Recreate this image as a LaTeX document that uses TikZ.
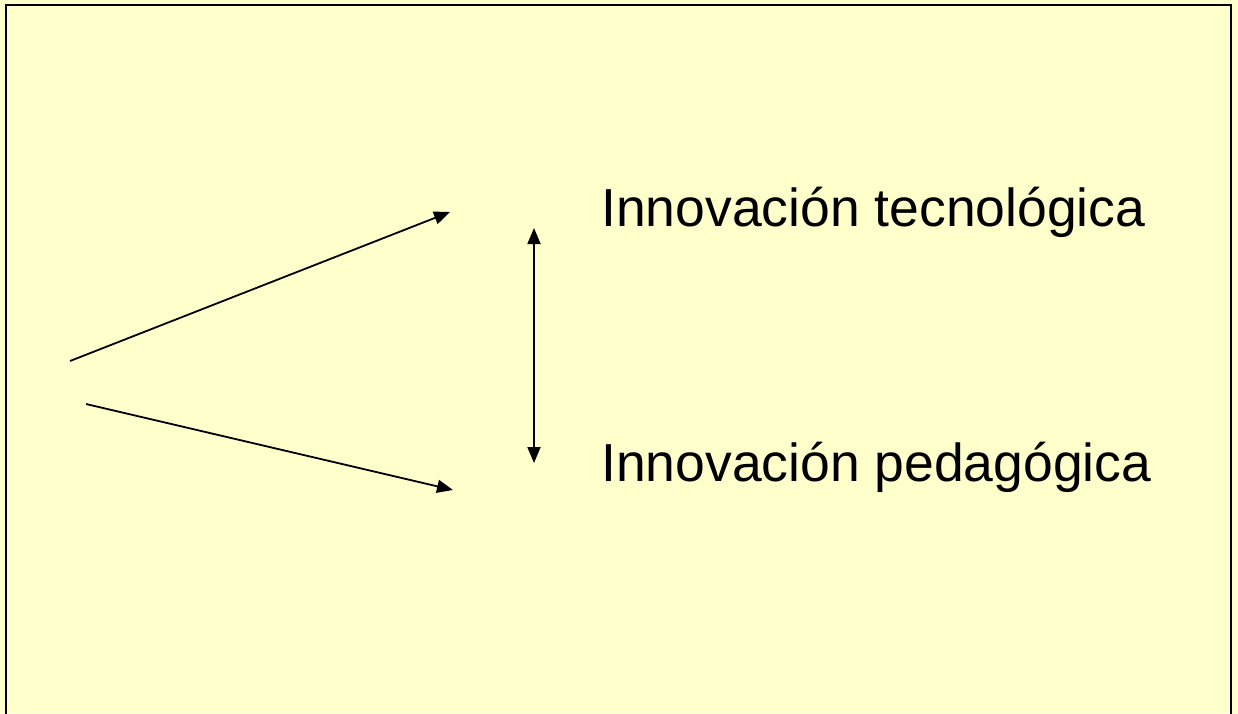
\documentclass[tikz,border=0pt]{standalone}
\usepackage{fontspec}
\setmainfont{Liberation Sans}
\usetikzlibrary{arrows.meta}

\definecolor{slidebg}{RGB}{255,255,204}

\begin{document}
\begin{tikzpicture}
		[x=1pt,y=-1pt,
		 every node/.style={inner sep=0pt,anchor=base west,font=\fontsize{53.5}{60}\selectfont},
		 flecha/.style={line width=1.8pt,-{Triangle[length=16pt,width=13pt]}},
		 doble/.style={line width=1.8pt,{Triangle[length=16pt,width=13pt]}-{Triangle[length=16pt,width=13pt]}}]
		\fill[slidebg] (0,0) rectangle (1238,713);
		\useasboundingbox (0,0) rectangle (1238,713);
		\draw[line width=2pt] (6,720) |- (1231,5) -- (1231,720);
		
		\node (tec) at (601,226) {Innovación tecnológica};
		\node (ped) at (601,481) {Innovación pedagógica};
		
		\coordinate (o1) at (70,361);
		\coordinate (f1) at (450,212);
		\coordinate (o2) at (86,404);
		\coordinate (f2) at (453,490);
		\coordinate (d1) at (534,228);
		\coordinate (d2) at (534,463);
		
		\draw[flecha] (o1) -- (f1);
		\draw[flecha] (o2) -- (f2);
		\draw[doble] (d1) -- (d2);
		
		\end{tikzpicture}
\end{document}
